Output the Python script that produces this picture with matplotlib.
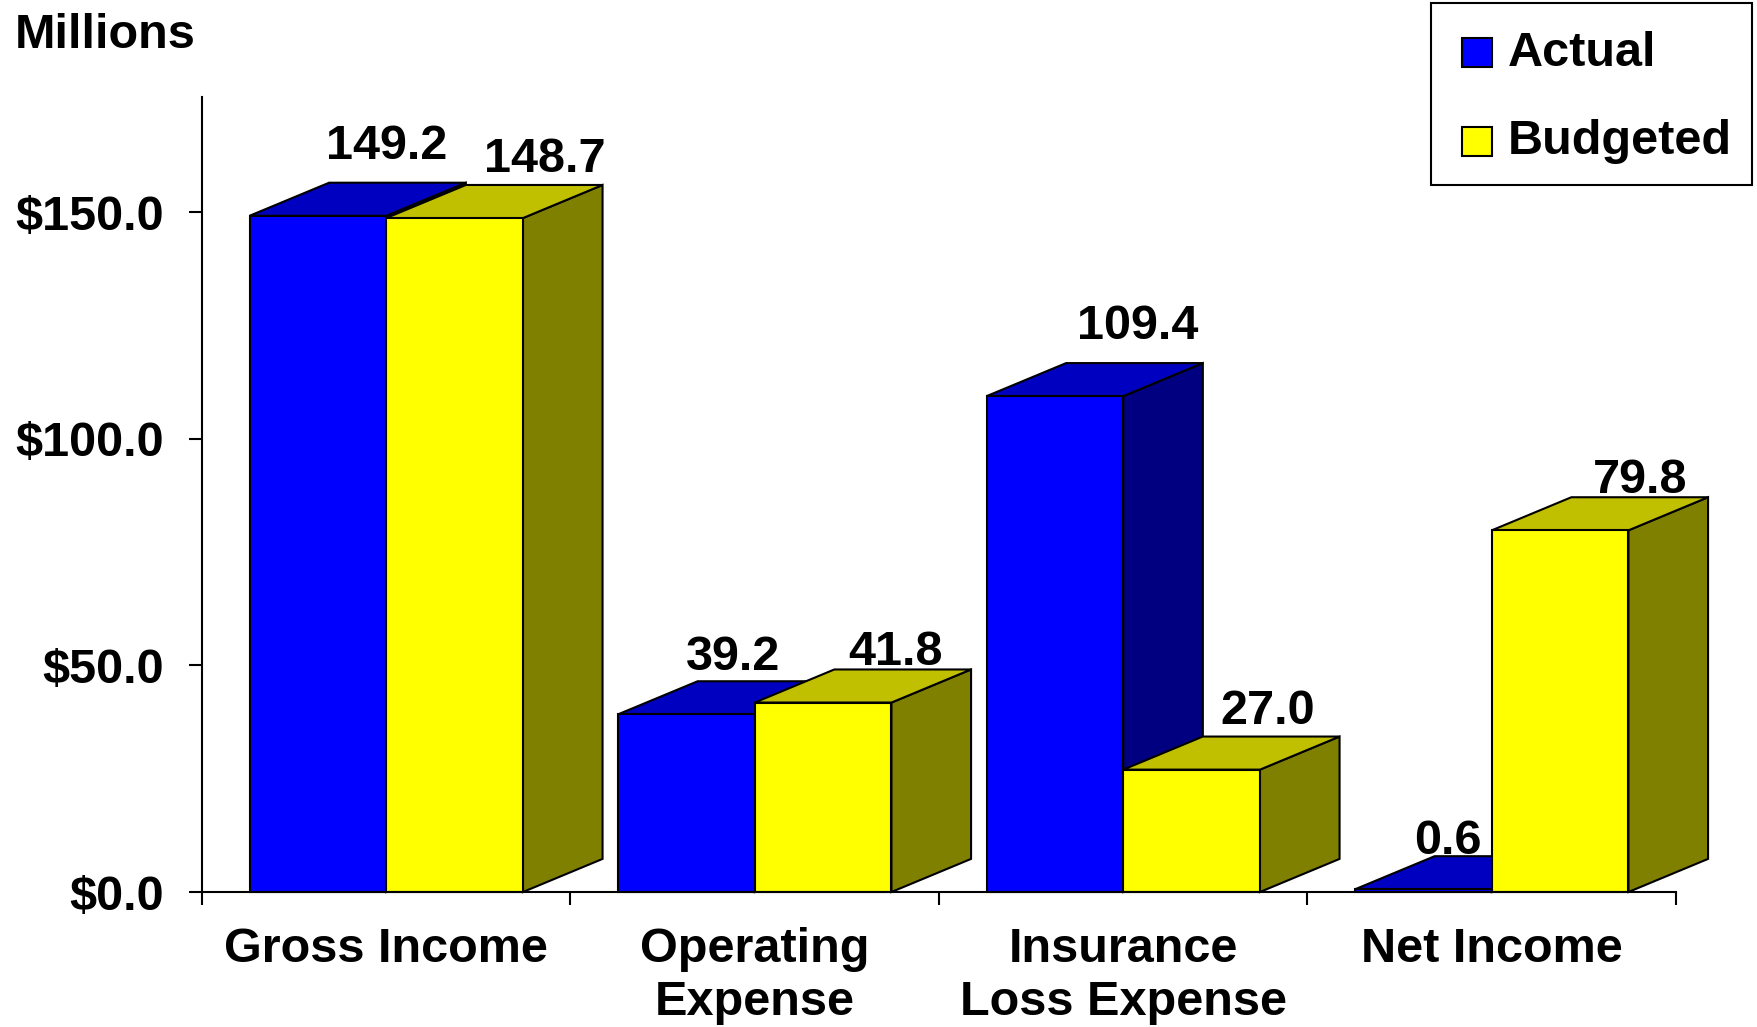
import matplotlib
matplotlib.use("Agg")
from matplotlib import pyplot as plt
from matplotlib.patches import Polygon, Rectangle
import numpy as np

# data (millions of dollars)
categories = ["Gross Income", "Operating\nExpense", "Insurance\nLoss Expense", "Net Income"]
actual = [149.2, 39.2, 109.4, 0.6]
budgeted = [148.7, 41.8, 27.0, 79.8]
series_names = ["Actual", "Budgeted"]
yticks = [0, 50, 100, 150]
ytick_labels = ["$0.0", "$50.0", "$100.0", "$150.0"]

plt.rcParams['font.family'] = ['Liberation Sans', 'DejaVu Sans']
plt.rcParams['font.weight'] = 'bold'
FS = 35

# face colours: front, top, side
blue = ("#0000FF", "#0000C0", "#000080")
yellow = ("#FFFF00", "#C0C000", "#808000")

W, H = 1758, 1027
fig = plt.figure(figsize=(W / 100, H / 100), dpi=100)
ax = fig.add_axes([202 / W, 1 - 892 / H, (1676 - 202) / W, (892 - 97.5) / H])
ax.set_xlim(0, 4)
ax.set_ylim(0, 175.3)

bw = 0.371    # bar width (category units)
ddx = 0.216   # depth offset x
ddy = 7.3     # depth offset y (value units)
lw = 1.5

# label placement tweaks: sideways nudge (category units) and lift above value
label_shift = [[-0.03, 0.03], [-0.09, -0.02], [0.01, -0.01], [-0.15, 0.0]]
label_lift = [[15.2, 13.0], [12.6, 11.0], [15.4, 12.9], [10.6, 11.1]]


def draw_bar(x0, v, cols, z):
    front, top, side = cols
    ax.add_patch(Polygon([(x0 + bw, 0), (x0 + bw + ddx, ddy), (x0 + bw + ddx, v + ddy), (x0 + bw, v)],
                         closed=True, facecolor=side, edgecolor="black", lw=lw, zorder=z, clip_on=False))
    ax.add_patch(Polygon([(x0, v), (x0 + bw, v), (x0 + bw + ddx, v + ddy), (x0 + ddx, v + ddy)],
                         closed=True, facecolor=top, edgecolor="black", lw=lw, zorder=z, clip_on=False))
    ax.bar(x0, v, width=bw, align="edge", color=front, edgecolor="black", lw=lw, zorder=z + 0.5, clip_on=False)


for s, (vals, cols) in enumerate([(actual, blue), (budgeted, yellow)]):
    for i, v in enumerate(vals):
        x0 = i + 0.5 - bw if s == 0 else i + 0.5
        draw_bar(x0, v, cols, 3 + s)
        ax.text(x0 + bw / 2 + ddx + label_shift[i][s], v + label_lift[i][s], "%.1f" % v,
                ha="center", va="center", fontsize=FS, fontweight="bold", zorder=10)

# axes styling
for sp in ["top", "right"]:
    ax.spines[sp].set_visible(False)
ax.spines["left"].set_linewidth(lw)
ax.spines["bottom"].set_linewidth(lw)
ax.spines["bottom"].set_zorder(6)

ax.set_yticks(yticks)
ax.set_yticklabels(ytick_labels, fontsize=FS, fontweight="bold")
ax.tick_params(axis="y", direction="out", length=9.7, width=lw, pad=18)

ax.set_xticks(np.arange(0, 5))
ax.set_xticklabels([])
ax.tick_params(axis="x", which="major", direction="out", length=9, width=lw)
ax.set_xticks(np.arange(4) + 0.5, minor=True)
ax.set_xticklabels(categories, minor=True, fontsize=FS, fontweight="bold", linespacing=1.25)
ax.tick_params(axis="x", which="minor", length=0, pad=25)

fig.text(196 / W, 1 - 35 / H, "Millions", ha="right", va="center", fontsize=FS, fontweight="bold")

# legend box drawn by hand
def px(x, y):
    return (x / W, 1 - y / H)

fig.add_artist(Rectangle(px(1431, 185), (1752 - 1431) / W, (185 - 3) / H, transform=fig.transFigure,
                         facecolor="white", edgecolor="black", lw=1.5))
for name, cols, yc in [(series_names[0], blue, 53), (series_names[1], yellow, 142)]:
    fig.add_artist(Rectangle(px(1462, yc + 14), 30 / W, 29 / H, transform=fig.transFigure,
                             facecolor=cols[0], edgecolor="black", lw=1.5))
    fig.text(1508 / W, 1 - yc / H, name, ha="left", va="center", fontsize=FS, fontweight="bold")

fig.savefig("out.png", dpi=100)
